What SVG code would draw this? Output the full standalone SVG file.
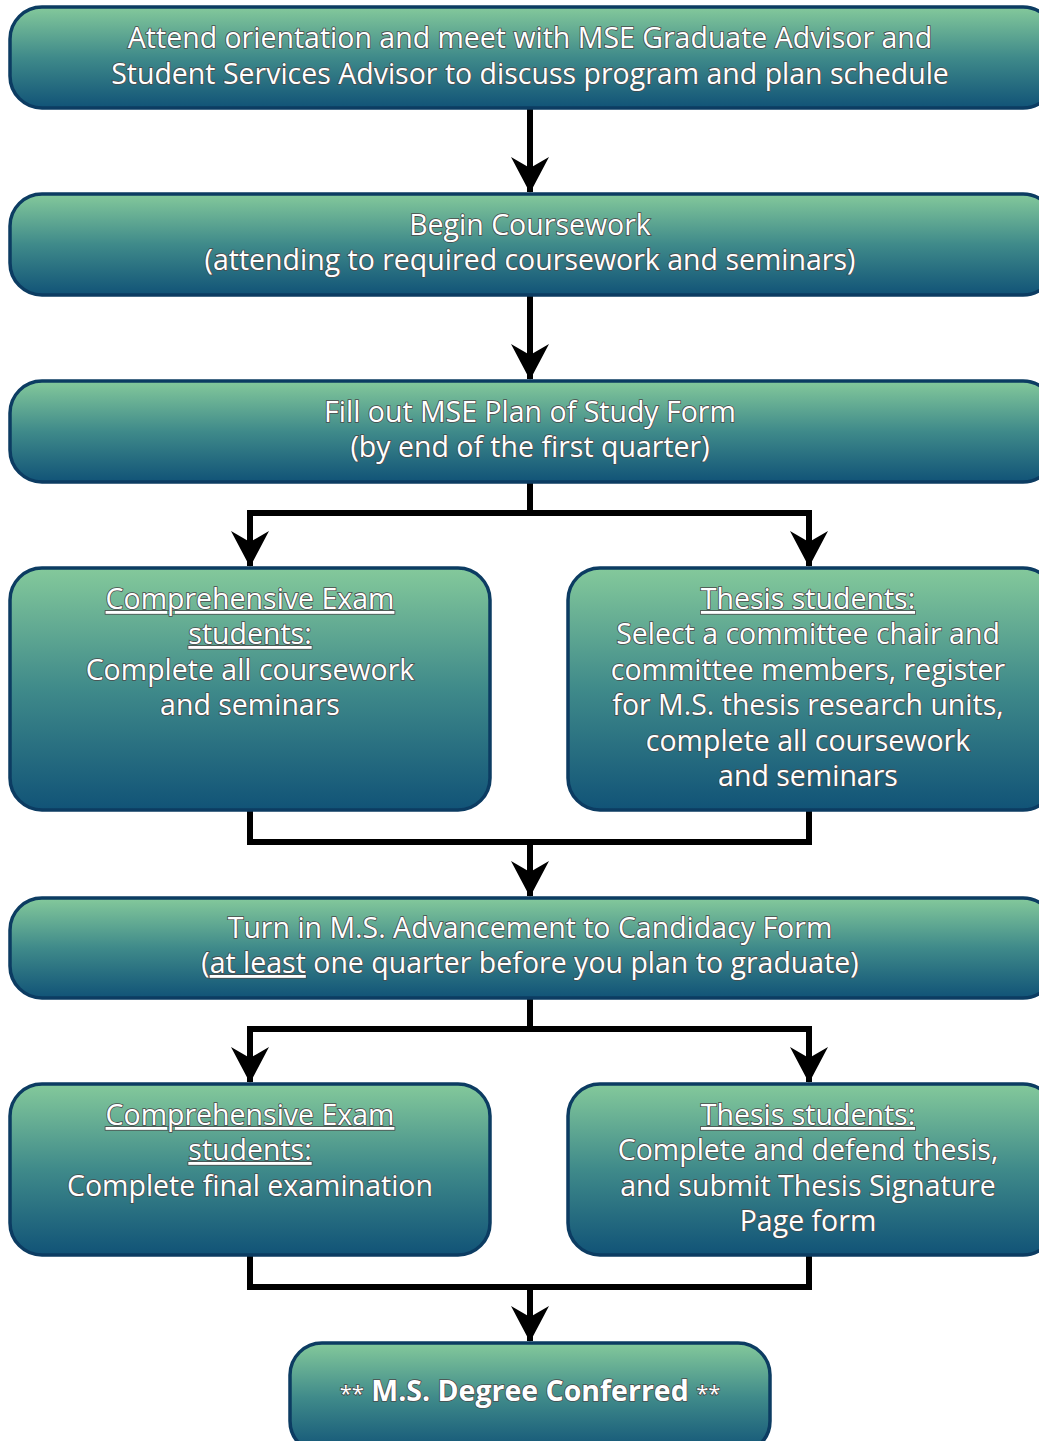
<svg xmlns="http://www.w3.org/2000/svg" width="1039" height="1441" viewBox="0 0 1039 1441">
<defs>
<linearGradient id="g" x1="0" y1="0" x2="0" y2="1">
<stop offset="0" stop-color="#84c99b"/>
<stop offset="0.5" stop-color="#3f8a8a"/>
<stop offset="1" stop-color="#115377"/>
</linearGradient>
<marker id="ah" viewBox="0 0 36 38" refX="35" refY="19" markerWidth="36" markerHeight="38" markerUnits="userSpaceOnUse" orient="auto">
<path d="M0 0 L36 19 L0 38 L11 19 Z" fill="#000"/>
</marker>
</defs>
<style>
.box{fill:url(#g);stroke:#0c3c62;stroke-width:3.5}
.t{font-family:"Open Sans","Noto Sans",sans-serif;font-size:28.5px;fill:#fff;stroke:#4a4a4a;stroke-width:1.6;paint-order:stroke;text-anchor:middle}
.u{text-decoration:underline}
.c{fill:none;stroke:#000;stroke-width:6}
.a{fill:none;stroke:#000;stroke-width:6;marker-end:url(#ah)}
</style>
<rect width="1039" height="1441" fill="#fff"/>
<g id="connectors">
<path class="a" d="M530 108 V192"/>
<path class="a" d="M530 295 V379"/>
<path class="c" d="M530 482 V513 M250 513 H809"/>
<path class="a" d="M250 510 V566"/>
<path class="a" d="M809 510 V566"/>
<path class="c" d="M250 810 V842 H809 V810"/>
<path class="a" d="M530 842 V896"/>
<path class="c" d="M530 998 V1029 M250 1029 H809"/>
<path class="a" d="M250 1026 V1082"/>
<path class="a" d="M809 1026 V1082"/>
<path class="c" d="M250 1255 V1287 H809 V1255"/>
<path class="a" d="M530 1287 V1341"/>
</g>
<g id="n1">
<rect class="box" x="10" y="7" width="1045" height="101" rx="32"/>
<text class="t" x="530" y="48">Attend orientation and meet with MSE Graduate Advisor and</text>
<text class="t" x="530" y="84">Student Services Advisor to discuss program and plan schedule</text>
</g>
<g id="n2">
<rect class="box" x="10" y="194" width="1045" height="101" rx="32"/>
<text class="t" x="530" y="235">Begin Coursework</text>
<text class="t" x="530" y="270">(attending to required coursework and seminars)</text>
</g>
<g id="n3">
<rect class="box" x="10" y="381" width="1045" height="101" rx="32"/>
<text class="t" x="530" y="422">Fill out MSE Plan of Study Form</text>
<text class="t" x="530" y="457">(by end of the first quarter)</text>
</g>
<g id="n4">
<rect class="box" x="10" y="568" width="480" height="242" rx="32"/>
<text class="t u" x="250" y="609">Comprehensive Exam</text>
<text class="t u" x="250" y="644">students:</text>
<text class="t" x="250" y="680">Complete all coursework</text>
<text class="t" x="250" y="715">and seminars</text>
</g>
<g id="n5">
<rect class="box" x="568" y="568" width="487" height="242" rx="32"/>
<text class="t u" x="808" y="609">Thesis students:</text>
<text class="t" x="808" y="644">Select a committee chair and</text>
<text class="t" x="808" y="680">committee members, register</text>
<text class="t" x="808" y="715">for M.S. thesis research units,</text>
<text class="t" x="808" y="751">complete all coursework</text>
<text class="t" x="808" y="786">and seminars</text>
</g>
<g id="n6">
<rect class="box" x="10" y="898" width="1045" height="100" rx="32"/>
<text class="t" x="530" y="938">Turn in M.S. Advancement to Candidacy Form</text>
<text class="t" x="530" y="973">(<tspan class="u">at least</tspan> one quarter before you plan to graduate)</text>
</g>
<g id="n7">
<rect class="box" x="10" y="1084" width="480" height="171" rx="32"/>
<text class="t u" x="250" y="1125">Comprehensive Exam</text>
<text class="t u" x="250" y="1160">students:</text>
<text class="t" x="250" y="1196">Complete final examination</text>
</g>
<g id="n8">
<rect class="box" x="568" y="1084" width="487" height="171" rx="32"/>
<text class="t u" x="808" y="1125">Thesis students:</text>
<text class="t" x="808" y="1160">Complete and defend thesis,</text>
<text class="t" x="808" y="1196">and submit Thesis Signature</text>
<text class="t" x="808" y="1231">Page form</text>
</g>
<g id="n9">
<rect class="box" x="290" y="1343" width="480" height="110" rx="32"/>
<text class="t" x="530" y="1401" style="font-weight:bold"><tspan style="font-weight:normal;font-size:22px">**</tspan> M.S. Degree Conferred <tspan style="font-weight:normal;font-size:22px">**</tspan></text>
</g>
</svg>
